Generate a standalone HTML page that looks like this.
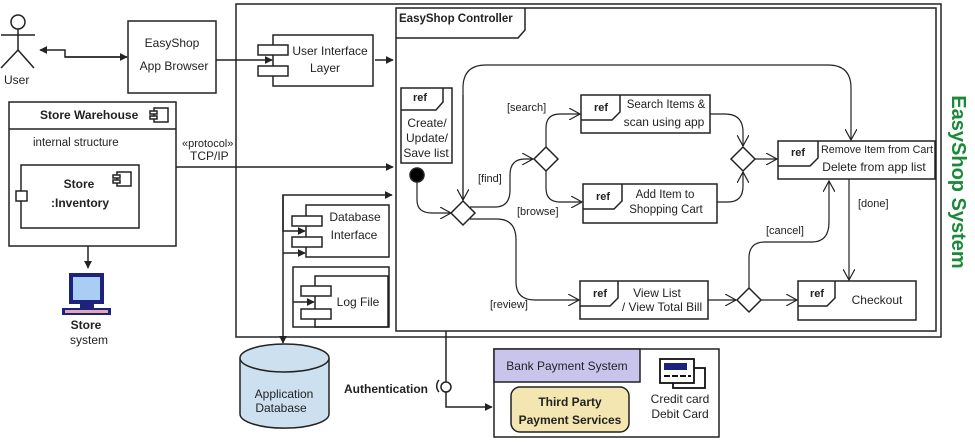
<!DOCTYPE html>
<html><head><meta charset="utf-8"><style>
html,body{margin:0;padding:0;background:#fff;}
svg{display:block;font-family:"Liberation Sans",sans-serif;}
</style></head><body>
<svg width="975" height="446" viewBox="0 0 975 446" xmlns="http://www.w3.org/2000/svg">
<defs>
<marker id="v" viewBox="0 0 12 12" refX="11" refY="6" markerWidth="12" markerHeight="12" markerUnits="userSpaceOnUse" orient="auto"><path d="M0,0 L11,6 L0,12" fill="none" stroke="#222" stroke-width="1.2"/></marker>
<marker id="f" viewBox="0 0 10 10" refX="9" refY="5" markerWidth="8" markerHeight="8" markerUnits="userSpaceOnUse" orient="auto"><path d="M0,0 L10,5 L0,10 z" fill="#222"/></marker>
</defs>
<g stroke="#222" stroke-width="1.5" fill="none">
<!-- actor -->
<circle cx="18" cy="22" r="7"/>
<line x1="18" y1="29" x2="18" y2="50"/><line x1="1" y1="35" x2="35" y2="35"/>
<line x1="18" y1="50" x2="1" y2="68"/><line x1="18" y1="50" x2="34" y2="68"/>
<polyline points="127,57 65,57 65,50 40,50" marker-end="url(#f)"/>
<line x1="65" y1="57" x2="127" y2="57" marker-end="url(#f)"/>
<!-- browser -->
<rect x="128" y="21" width="88" height="72"/>
<line x1="216" y1="60" x2="272" y2="60" marker-end="url(#f)"/>
<!-- UI layer -->
<rect x="273" y="35" width="100" height="51"/>
<rect x="258" y="45" width="30" height="10" fill="#fff"/><rect x="258" y="66" width="30" height="10" fill="#fff"/>
<line x1="375" y1="60" x2="393" y2="60" marker-end="url(#f)"/>
<!-- warehouse -->
<rect x="9" y="102" width="167" height="144"/><line x1="9" y1="129" x2="176" y2="129"/>
<rect x="154" y="108" width="14" height="14"/><rect x="150" y="111" width="7" height="3" fill="#fff"/><rect x="150" y="116" width="7" height="3" fill="#fff"/>
<rect x="21" y="165" width="118" height="63"/><rect x="16" y="191" width="11" height="10" fill="#fff"/>
<rect x="117" y="172" width="14" height="14"/><rect x="113" y="175" width="7" height="3" fill="#fff"/><rect x="113" y="180" width="7" height="3" fill="#fff"/>
<line x1="88" y1="246" x2="88" y2="268" marker-end="url(#f)"/>
<!-- outer frame -->
<rect x="236" y="4" width="705" height="333"/>
<line x1="176" y1="167" x2="393" y2="167" marker-end="url(#f)"/>
<!-- DB interface -->
<polyline points="283,253 283,195 392,195" marker-end="url(#f)"/>
<polyline points="283,195 283,231 305,231" marker-end="url(#f)"/>
<rect x="306" y="205" width="83" height="52"/>
<rect x="292" y="216" width="30" height="10" fill="#fff"/><rect x="292" y="237" width="30" height="10" fill="#fff"/>
<line x1="283" y1="253" x2="305" y2="253" marker-end="url(#f)"/>
<line x1="283" y1="253" x2="283" y2="343" marker-end="url(#f)"/>
<!-- log file -->
<rect x="293" y="267" width="96" height="60"/>
<rect x="315" y="276" width="73" height="51"/>
<rect x="301" y="286" width="30" height="10" fill="#fff"/><rect x="301" y="309" width="30" height="10" fill="#fff"/>
<line x1="293" y1="302" x2="314" y2="302" marker-end="url(#f)"/>
<!-- controller -->
<rect x="396" y="8" width="540" height="323"/>
<path d="M396,38 L518,38 L525,30 L525,8"/>
<!-- create box -->
<rect x="401" y="88" width="51" height="75"/>
<path d="M401,110 L436,110 L443,102 L443,88"/>
<circle cx="417" cy="175" r="7" fill="#000"/>
<path d="M417,182 L417,200 Q417,213 432,213 L451,213" stroke-width="1.2" marker-end="url(#v)"/>
<!-- main diamond -->
<polygon points="463,201 475,213 463,225 451,213" fill="#fff"/>
<path d="M463,201 L463,88 Q463,65 486,65 L828,65 Q851,65 851,88 L851,140" stroke-width="1.2" marker-end="url(#v)"/>
<path d="M463,95 L463,200" stroke-width="1.2" marker-end="url(#v)"/>
<path d="M470,207 L495,207 Q510,207 510,190 L510,175 Q510,159 525,159 L533,159" stroke-width="1.2" marker-end="url(#v)"/>
<path d="M470,219 L497,219 Q516,219 516,240 L516,282 Q516,300 535,300 L579,300" stroke-width="1.2" marker-end="url(#v)"/>
<!-- diamond 2 -->
<polygon points="546,147 558,159 546,171 534,159" fill="#fff"/>
<path d="M546,147 L546,128 Q546,114 560,114 L580,114" stroke-width="1.2" marker-end="url(#v)"/>
<path d="M546,171 L546,188 Q546,202 560,202 L582,202" stroke-width="1.2" marker-end="url(#v)"/>
<!-- search / add -->
<rect x="581" y="95" width="129" height="38"/><path d="M581,120 L612,120 L620,112 L620,95"/>
<rect x="583" y="184" width="134" height="39"/><path d="M583,209 L614,209 L622,201 L622,184"/>
<path d="M710,114 L725,114 Q743,114 743,132 L743,146" stroke-width="1.2" marker-end="url(#v)"/>
<path d="M717,202 L728,202 Q743,202 743,186 L743,172" stroke-width="1.2" marker-end="url(#v)"/>
<polygon points="743,147 755,159 743,171 731,159" fill="#fff"/>
<line x1="755" y1="159" x2="777" y2="159" stroke-width="1.2" marker-end="url(#v)"/>
<!-- remove -->
<rect x="778" y="141" width="157" height="38"/><path d="M778,166 L810,166 L818,158 L818,141"/>
<line x1="849" y1="179" x2="849" y2="280" stroke-width="1.2" marker-end="url(#v)"/>
<!-- view -->
<rect x="580" y="281" width="128" height="38"/><path d="M580,306 L610,306 L618,298 L618,281"/>
<line x1="708" y1="300" x2="736" y2="300" stroke-width="1.2" marker-end="url(#v)"/>
<polygon points="749,288 761,300 749,312 737,300" fill="#fff"/>
<line x1="761" y1="300" x2="797" y2="300" stroke-width="1.2" marker-end="url(#v)"/>
<path d="M749,288 L749,258 Q749,242 765,242 L812,242 Q829,242 829,222 L829,181" stroke-width="1.2" marker-end="url(#v)"/>
<!-- checkout -->
<rect x="798" y="281" width="118" height="39"/><path d="M798,306 L827,306 L835,298 L835,281"/>
<!-- authentication -->
<line x1="446" y1="331" x2="446" y2="382"/>
<circle cx="446" cy="387" r="5"/>
<path d="M439,392 A9,9 0 0 1 439,380"/>
<polyline points="446,392 446,407 492,407" marker-end="url(#f)"/>
<!-- bank -->
<rect x="494" y="349" width="225" height="88"/>
<rect x="494" y="349" width="146" height="33" fill="#c9c4ec"/>
<rect x="511" y="387" width="118" height="45" rx="9" fill="#f3e6b0"/>
</g>
<!-- cylinder -->
<g stroke="#222" stroke-width="1.5">
<path d="M240,358 L240,414 A44,14 0 0 0 329,414 L329,358" fill="#cde0f0"/>
<ellipse cx="284.5" cy="358" rx="44.5" ry="14" fill="#cde0f0"/>
</g>
<!-- computer -->
<rect x="69" y="273" width="35" height="31" fill="#1b237d"/>
<rect x="73" y="277" width="27" height="23" fill="#a9cdf3"/>
<rect x="80" y="304" width="14" height="4" fill="#1b237d"/>
<rect x="62" y="308" width="49" height="7" fill="#1b237d"/><rect x="65" y="310" width="43" height="3" fill="#e8a7a8"/>
<!-- card icon -->
<rect x="673" y="368" width="32" height="20" fill="#fff" stroke="#111" stroke-width="1.8"/>
<rect x="660" y="359" width="34" height="24" fill="#fff" stroke="#111" stroke-width="1.8"/>
<rect x="664" y="363" width="23" height="7" fill="#1b237d"/>
<line x1="664" y1="376" x2="691" y2="376" stroke="#111" stroke-width="2" stroke-dasharray="6,2"/>
<g font-size="12" fill="#222">
<text x="4" y="84">User</text>
<text x="172" y="47" text-anchor="middle">EasyShop</text>
<text x="174" y="70" text-anchor="middle">App Browser</text>
<text x="330" y="55" text-anchor="middle">User Interface</text>
<text x="325" y="72" text-anchor="middle">Layer</text>
<text x="40" y="119" font-weight="bold">Store  Warehouse</text>
<text x="33" y="146" font-size="11.5">internal structure</text>
<text x="79" y="188" text-anchor="middle" font-weight="bold">Store</text>
<text x="80" y="207" text-anchor="middle" font-weight="bold">:Inventory</text>
<text x="86" y="329" text-anchor="middle" font-weight="bold">Store</text>
<text x="89" y="344" text-anchor="middle">system</text>
<text x="182" y="147" font-size="11">«protocol»</text>
<text x="190" y="160">TCP/IP</text>
<text x="355" y="221" text-anchor="middle">Database</text>
<text x="354" y="239" text-anchor="middle">Interface</text>
<text x="358" y="306" text-anchor="middle">Log File</text>
<text x="284" y="398" text-anchor="middle">Application</text>
<text x="281" y="412" text-anchor="middle">Database</text>
<text x="344" y="393" font-weight="bold">Authentication</text>
<text x="399" y="22" font-weight="bold" font-size="11.5">EasyShop Controller</text>
<text x="413" y="101" font-weight="bold" font-size="11">ref</text>
<text x="427" y="127" text-anchor="middle">Create/</text>
<text x="427" y="142" text-anchor="middle">Update/</text>
<text x="426" y="157" text-anchor="middle">Save list</text>
<text x="507" y="111" font-size="11">[search]</text>
<text x="478" y="182" font-size="11">[find]</text>
<text x="517" y="215" font-size="11">[browse]</text>
<text x="490" y="308" font-size="11">[review]</text>
<text x="766" y="234" font-size="11">[cancel]</text>
<text x="858" y="207" font-size="11">[done]</text>
<g font-weight="bold" font-size="11">
<text x="594" y="111">ref</text><text x="596" y="200">ref</text><text x="791" y="156">ref</text><text x="593" y="297">ref</text><text x="810" y="297">ref</text>
</g>
<text x="666" y="108" text-anchor="middle" font-size="11.5">Search Items &amp;</text>
<text x="664" y="126" text-anchor="middle">scan using app</text>
<text x="665" y="198" text-anchor="middle" font-size="11.5">Add Item to</text>
<text x="666" y="213" text-anchor="middle" font-size="11.5">Shopping Cart</text>
<text x="877" y="153" text-anchor="middle" font-size="11" textLength="112" lengthAdjust="spacingAndGlyphs">Remove Item from Cart</text>
<text x="874" y="171" text-anchor="middle">Delete from app list</text>
<text x="657" y="297" text-anchor="middle">View List</text>
<text x="662" y="311" text-anchor="middle">/ View Total Bill</text>
<text x="877" y="304" text-anchor="middle">Checkout</text>
<text x="567" y="370" text-anchor="middle">Bank Payment System</text>
<text x="570" y="406" text-anchor="middle" font-weight="bold">Third Party</text>
<text x="570" y="424" text-anchor="middle" font-weight="bold">Payment Services</text>
<text x="680" y="403" text-anchor="middle">Credit card</text>
<text x="680" y="418" text-anchor="middle">Debit Card</text>
</g>
<text x="0" y="0" transform="translate(952,182) rotate(90)" text-anchor="middle" font-size="20" font-weight="bold" fill="#1a8a3a">EasyShop System</text>
</svg>
</body></html>
